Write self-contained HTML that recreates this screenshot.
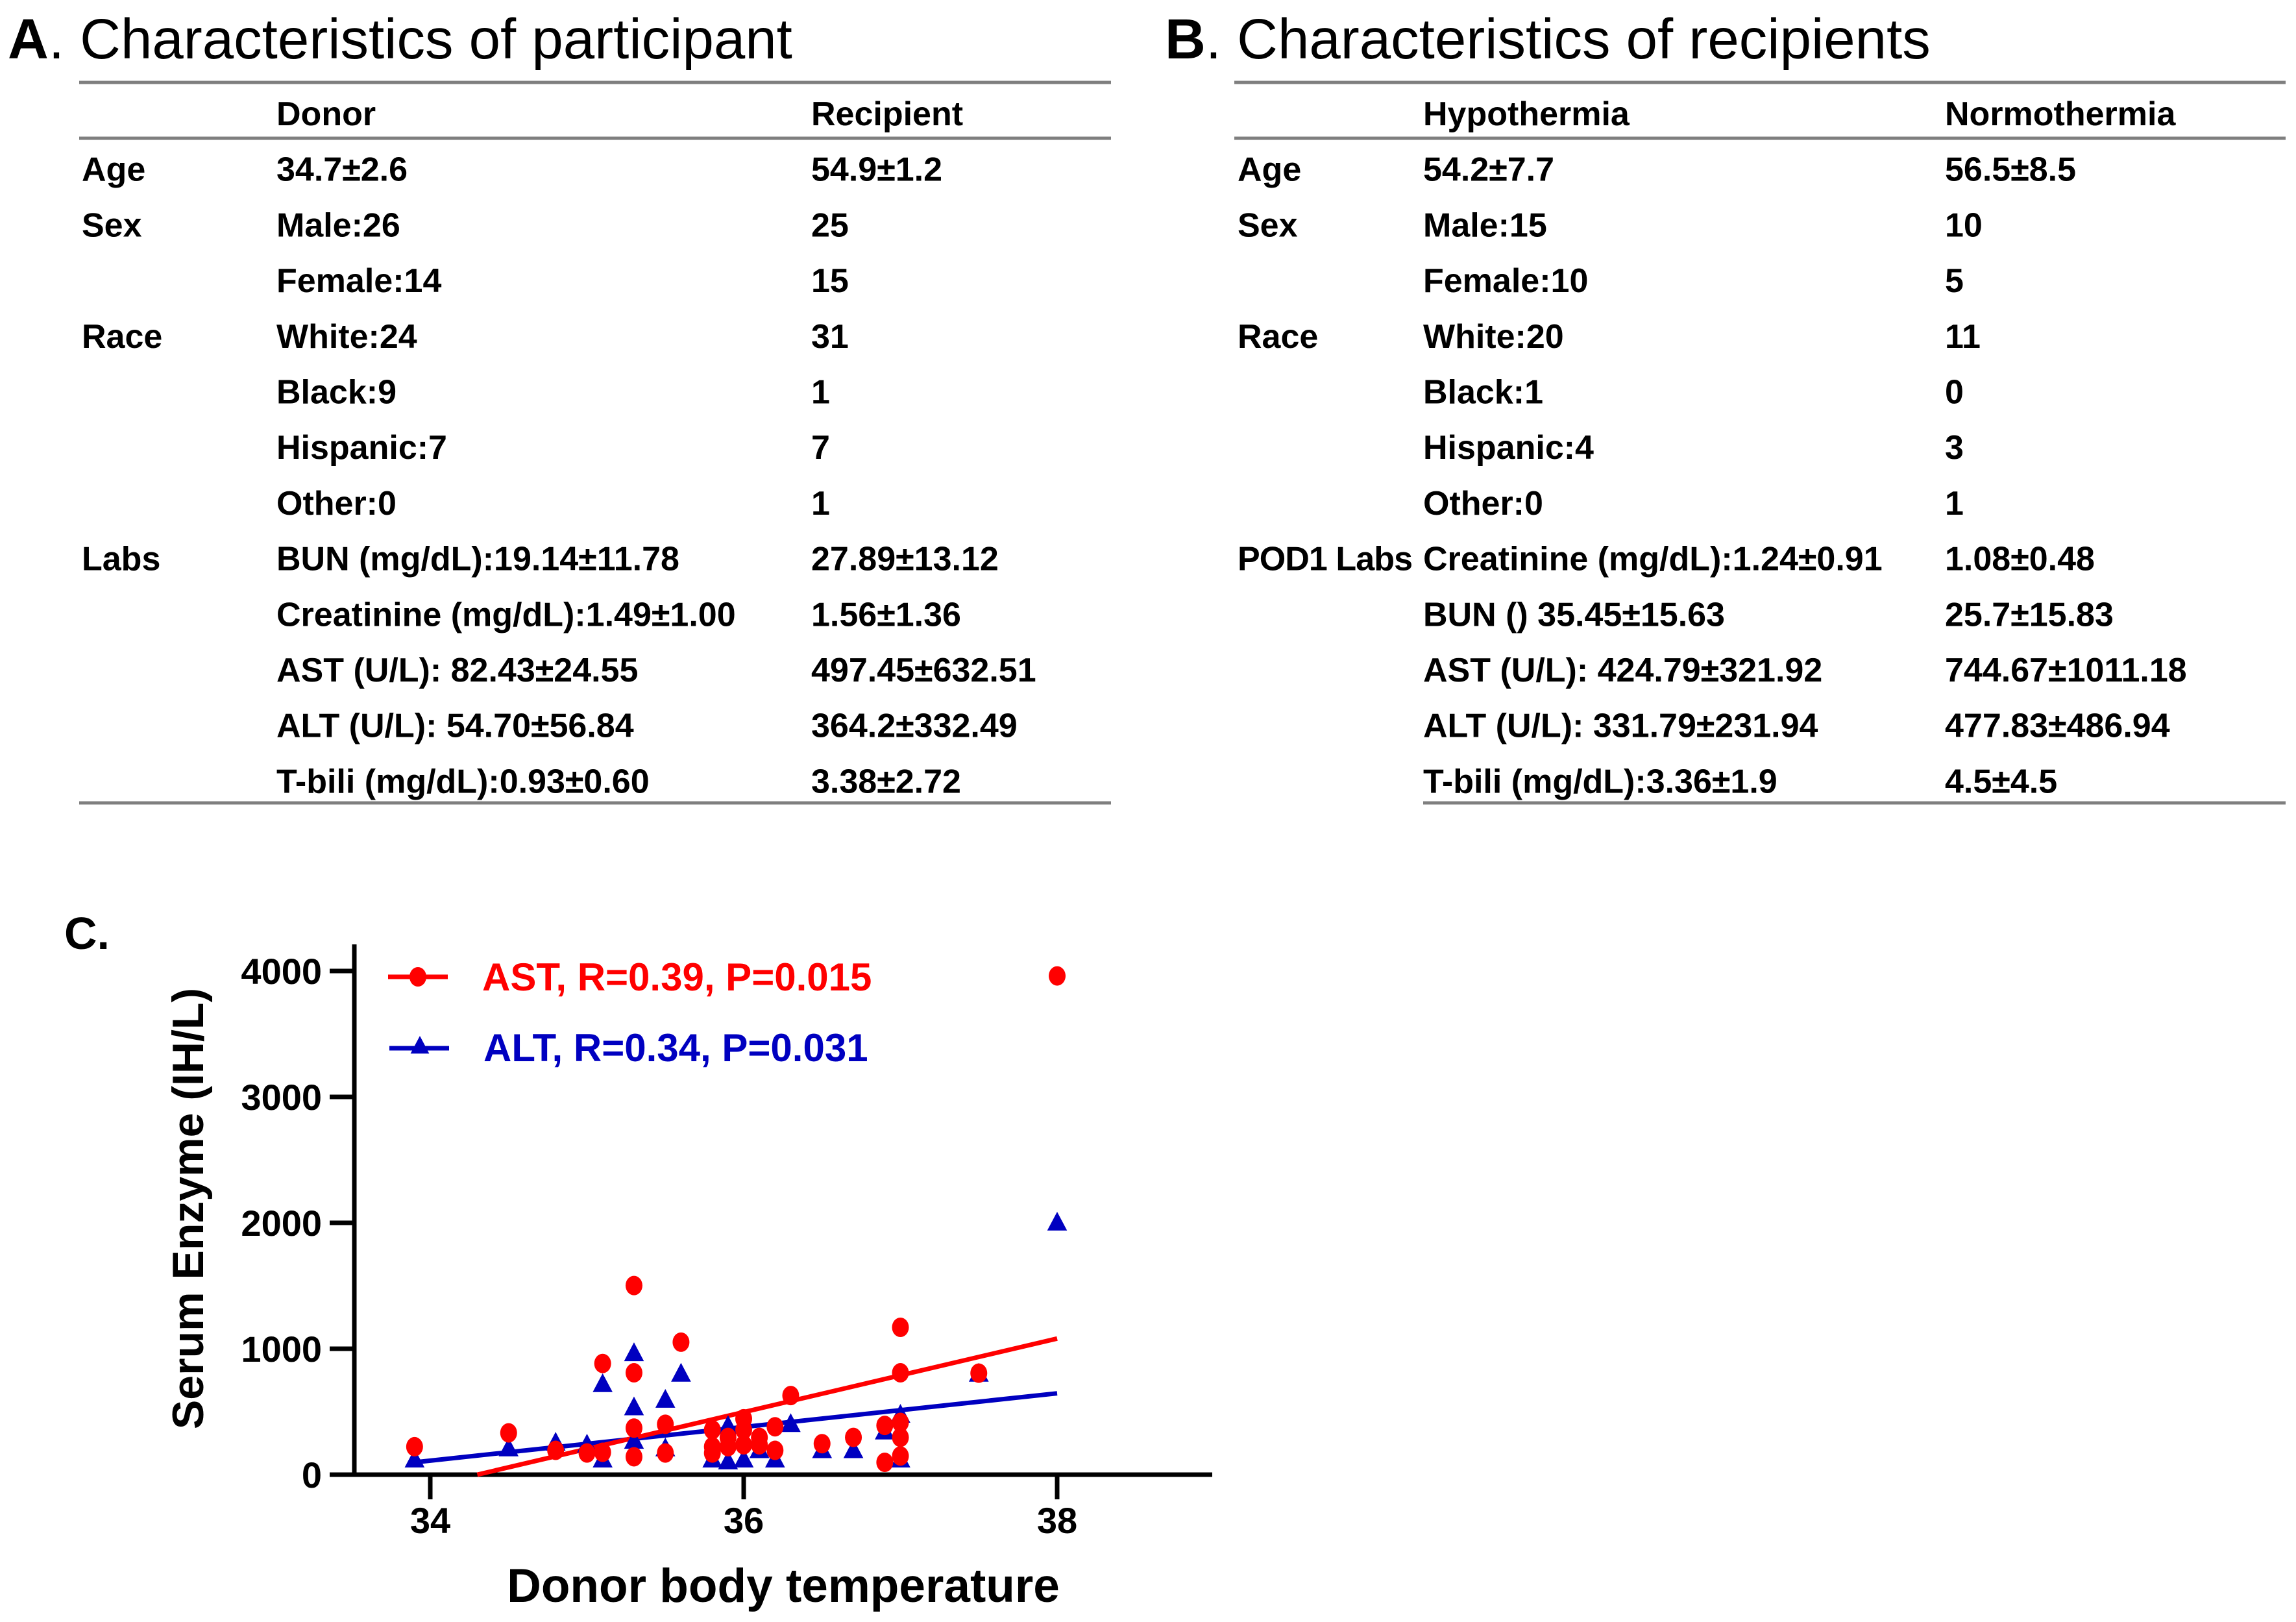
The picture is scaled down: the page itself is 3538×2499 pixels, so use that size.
<!DOCTYPE html>
<html><head><meta charset="utf-8">
<style>
html,body{margin:0;padding:0;background:#fff;}
svg{display:block;}
.t{font-family:"Liberation Sans",sans-serif;font-weight:bold;font-size:52px;fill:#000;}
.ttl{font-family:"Liberation Sans",sans-serif;font-size:87px;fill:#000;}
</style></head>
<body>
<svg id="fig" width="3538" height="2499" viewBox="0 0 3538 2499" xmlns="http://www.w3.org/2000/svg">
<g id="tables"></g>
<g id="chart"></g>
</svg>
<script>
// ---- Chart data ----
const astTemp = [33.9,34.5,34.8,35.0,35.1,35.1,35.3,35.3,35.3,35.3,35.5,35.5,35.6,35.8,35.8,35.8,35.9,35.9,36.0,36.0,36.0,36.1,36.1,36.2,36.2,36.3,36.5,36.7,36.9,36.9,37.0,37.0,37.0,37.0,37.0,37.5,38.0];
const astVal  = [222,332,193,172,883,178,1502,809,370,142,400,172,1052,356,222,172,296,222,444,356,237,296,237,380,193,628,246,296,391,98,1170,809,415,296,148,806,3961];
const altTemp = [33.9,34.5,34.8,35.0,35.1,35.1,35.3,35.3,35.3,35.5,35.5,35.6,35.8,35.9,35.9,36.0,36.1,36.2,36.3,36.5,36.7,36.9,37.0,37.0,37.5,38.0];
const altVal  = [119,207,252,237,717,119,963,533,267,593,207,800,119,385,104,119,193,119,400,193,193,341,474,119,800,2000];
const astFitX = [34.3,38.0];
const astFitY = [0,1081];
const altFitX = [33.9,38.0];
const altFitY = [98,646];
const xTicks = [34,36,38];
const yTicks = [0,1000,2000,3000,4000];

const NS="http://www.w3.org/2000/svg";
function mk(tag,attrs,parent,text){const e=document.createElementNS(NS,tag);for(const k in attrs)e.setAttribute(k,attrs[k]);if(text!==undefined)e.textContent=text;parent.appendChild(e);return e;}

// ---- Tables ----
const T=document.getElementById('tables');
function table(title,letter,tx,x0,x1,cols,rows,bottomX){
  let e=mk('text',{x:tx,y:90,class:'ttl'},T);
  
  
  const b=mk('tspan',{'font-weight':'bold'},e,letter);const s=mk('tspan',{},e,title);
  let r=mk('line',{x1:x0,x2:x1,y1:127,y2:127,stroke:'#7f7f7f','stroke-width':5},T);
  
  r=mk('line',{x1:x0,x2:x1,y1:213,y2:213,stroke:'#7f7f7f','stroke-width':5},T);
  
  r=mk('line',{x1:bottomX,x2:x1,y1:1237,y2:1237,stroke:'#7f7f7f','stroke-width':5},T);
  
  rows.forEach((row,i)=>{
    const y=193+i*85.7;
    row.forEach((c,j)=>{if(!c)return;
      const t=mk('text',{x:cols[j],y:y,class:'t'},T,c);
      if(j==0&&c.length>6)t.setAttribute('textLength','270');
      
      
    });
  });
}
table('. Characteristics of participant','A',12,122,1712,[126,426,1250],[
['','Donor','Recipient'],['Age','34.7±2.6','54.9±1.2'],['Sex','Male:26','25'],['','Female:14','15'],
['Race','White:24','31'],['','Black:9','1'],['','Hispanic:7','7'],['','Other:0','1'],
['Labs','BUN (mg/dL):19.14±11.78','27.89±13.12'],['','Creatinine (mg/dL):1.49±1.00','1.56±1.36'],
['','AST (U/L): 82.43±24.55','497.45±632.51'],['','ALT (U/L): 54.70±56.84','364.2±332.49'],['','T-bili (mg/dL):0.93±0.60','3.38±2.72']],122);
table('. Characteristics of recipients','B',1795,1902,3522,[1907,2193,2997],[
['','Hypothermia','Normothermia'],['Age','54.2±7.7','56.5±8.5'],['Sex','Male:15','10'],['','Female:10','5'],
['Race','White:20','11'],['','Black:1','0'],['','Hispanic:4','3'],['','Other:0','1'],
['POD1 Labs','Creatinine (mg/dL):1.24±0.91','1.08±0.48'],['','BUN () 35.45±15.63','25.7±15.83'],
['','AST (U/L): 424.79±321.92','744.67±1011.18'],['','ALT (U/L): 331.79±231.94','477.83±486.94'],['','T-bili (mg/dL):3.36±1.9','4.5±4.5']],2193);

// ---- Chart ----
const C=document.getElementById('chart');
const X=v=>663+(v-34)*241.5;
const Y=v=>2272-v*0.194;
const AX=546, AY=2272, AXR=1868, AYT=1455;
let e;
e=mk('text',{x:99,y:1462,'font-family':'Liberation Sans, sans-serif','font-weight':'bold','font-size':70},C,'C.');

e=mk('line',{x1:AX,x2:AX,y1:AYT,y2:AY+3,stroke:'#000','stroke-width':7},C);

e=mk('line',{x1:AX-3,x2:AXR,y1:AY,y2:AY,stroke:'#000','stroke-width':7},C);

yTicks.forEach(v=>{
  const t=mk('line',{x1:AX-38,x2:AX,y1:Y(v),y2:Y(v),stroke:'#000','stroke-width':7},C);
  
  const l=mk('text',{x:AX-50,y:Y(v)+20,'text-anchor':'end','font-family':'Liberation Sans, sans-serif','font-weight':'bold','font-size':56},C,String(v));
  
});
xTicks.forEach(v=>{
  const t=mk('line',{x1:X(v),x2:X(v),y1:AY,y2:AY+38,stroke:'#000','stroke-width':7},C);
  
  const l=mk('text',{x:X(v),y:AY+90,'text-anchor':'middle','font-family':'Liberation Sans, sans-serif','font-weight':'bold','font-size':56},C,String(v));
  
});
e=mk('text',{x:1207,y:2468,'text-anchor':'middle','font-family':'Liberation Sans, sans-serif','font-weight':'bold','font-size':73},C,'Donor body temperature');

e=mk('text',{x:0,y:0,'text-anchor':'middle','font-family':'Liberation Sans, sans-serif','font-weight':'bold','font-size':68,transform:'translate(313,1862) rotate(-90)'},C,'Serum Enzyme (IH/L)');


// fit lines
e=mk('line',{x1:X(altFitX[0]),y1:Y(altFitY[0]),x2:X(altFitX[1]),y2:Y(altFitY[1]),stroke:'#0000c0','stroke-width':7},C);

e=mk('line',{x1:X(astFitX[0]),y1:Y(astFitY[0]),x2:X(astFitX[1]),y2:Y(astFitY[1]),stroke:'#ff0000','stroke-width':7},C);


function tri(cx,cy,s){return `${cx},${cy-s} ${cx-s*0.9},${cy+s*0.7} ${cx+s*0.9},${cy+s*0.7}`;}
altTemp.forEach((t,i)=>{
  const p=mk('polygon',{points:tri(X(t),Y(altVal[i]),17),fill:'#0000c0'},C);
  
  
});
astTemp.forEach((t,i)=>{
  const p=mk('ellipse',{cx:X(t),cy:Y(astVal[i]),rx:13,ry:15,fill:'#ff0000'},C);
  
  
});

// legend
e=mk('line',{x1:598,x2:690,y1:1505,y2:1505,stroke:'#ff0000','stroke-width':7},C);

e=mk('ellipse',{cx:644,cy:1505,rx:13,ry:15,fill:'#ff0000'},C);

e=mk('text',{x:743,y:1526,'font-family':'Liberation Sans, sans-serif','font-weight':'bold','font-size':60,fill:'#ff0000'},C,'AST, R=0.39, P=0.015');

e=mk('line',{x1:600,x2:692,y1:1615,y2:1615,stroke:'#0000c0','stroke-width':7},C);

e=mk('polygon',{points:tri(647,1612,16),fill:'#0000c0'},C);

e=mk('text',{x:745,y:1635,'font-family':'Liberation Sans, sans-serif','font-weight':'bold','font-size':60,fill:'#0000c0'},C,'ALT, R=0.34, P=0.031');

</script>
</body></html>
